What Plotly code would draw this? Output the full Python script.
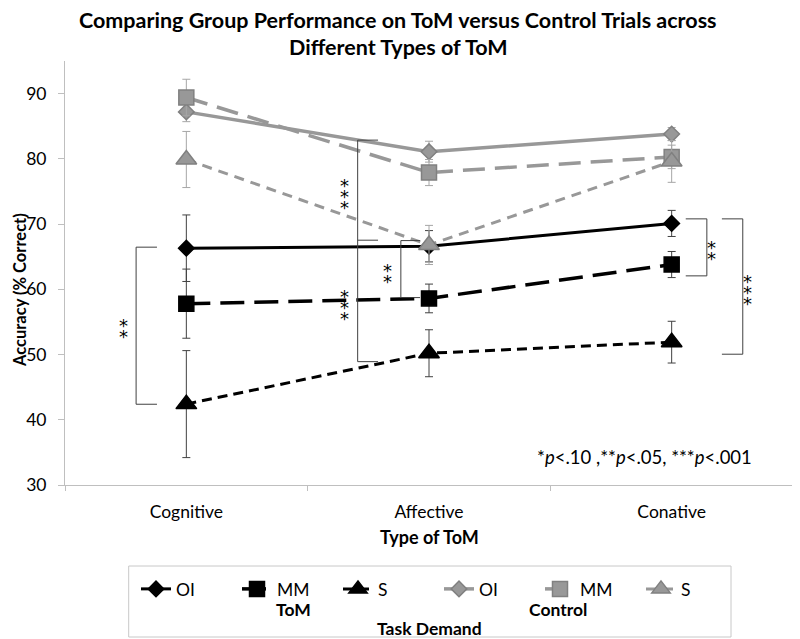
import plotly.graph_objects as go

# ---------------- data ----------------
categories = ["Cognitive", "Affective", "Conative"]

tom_oi = [66.3, 66.6, 70.1]
tom_oi_err = [5.1, 2.4, 2.0]
tom_mm = [57.8, 58.6, 63.8]
tom_mm_err = [5.3, 2.2, 2.0]
tom_s = [42.4, 50.2, 51.9]
tom_s_err = [8.2, 3.6, 3.2]

ctl_oi = [87.2, 81.1, 83.8]
ctl_oi_err = [1.5, 1.6, 1.0]
ctl_mm = [89.4, 77.9, 80.3]
ctl_mm_err = [2.8, 2.0, 1.8]
ctl_s = [79.9, 66.8, 79.6]
ctl_s_err = [4.3, 3.0, 3.2]

y_ticks = [30, 40, 50, 60, 70, 80, 90]

# significance brackets: vertical x, tick end x, y levels
bracket_xv = [-0.207, 0.706, 0.884, 2.145, 2.293]
bracket_xe = [-0.121, 0.790, 0.963, 2.058, 2.207]
bracket_ys = [[66.46, 42.38], [82.87, 67.53, 48.91], [67.47, 58.73],
              [70.80, 62.06], [70.80, 50.05]]

# significance stars: x, y, count
star_x = [-0.26, 0.650, 0.650, 0.827, 2.166, 2.314]
star_y = [54.5, 75.1, 58.07, 62.98, 66.43, 60.37]
star_n = [2, 3, 3, 2, 2, 3]

FONT = "Lato"
BLACK = "#000000"
GREY = "#989898"
GREY_EDGE = "#808080"

# page body has an 8px margin; plot area laid out in page pixels
PAGE_OFF = 8
PL, PR, PT, PB = 65, 793, 61, 485   # plot area in page pixels
W, H = 800 - PAGE_OFF, 639 - PAGE_OFF


def px(xp):
    return (xp - PL) / (PR - PL)


def py(yp):
    return (PB - yp) / (PB - PT)


fig = go.Figure()

series = [
    ("OI", tom_oi, tom_oi_err, BLACK, BLACK, "solid", "diamond", 12, 3, "#404040"),
    ("MM", tom_mm, tom_mm_err, BLACK, BLACK, "24px,10px", "square", 15, 3.5, "#404040"),
    ("S", tom_s, tom_s_err, BLACK, BLACK, "10px,6px", "triangle-up", 18, 3, "#404040"),
    ("OI", ctl_oi, ctl_oi_err, GREY, GREY_EDGE, "solid", "diamond", 12, 3.5, "#a6a6a6"),
    ("MM", ctl_mm, ctl_mm_err, GREY, GREY_EDGE, "22px,10px", "square", 15, 3.5, "#a6a6a6"),
    ("S", ctl_s, ctl_s_err, GREY, GREY_EDGE, "10px,7px", "triangle-up", 18, 3, "#a6a6a6"),
]

for name, vals, errs, col, edge, dash, sym, size, lw, ecol in series:
    fig.add_trace(go.Scatter(
        x=categories, y=vals, name=name, mode="lines+markers",
        line=dict(color=col, width=lw, dash=dash),
        marker=dict(symbol=sym, size=size, color=col,
                    line=dict(color=edge, width=1.5)),
        error_y=dict(type="data", array=errs, visible=True,
                     color=ecol, thickness=1, width=4),
    ))

# brackets
for xv, xe, ys in zip(bracket_xv, bracket_xe, bracket_ys):
    fig.add_shape(type="line", xref="x", yref="y", x0=xv, x1=xv,
                  y0=min(ys), y1=max(ys), line=dict(color="#404040", width=1))
    for yy in ys:
        fig.add_shape(type="line", xref="x", yref="y", x0=xv, x1=xe,
                      y0=yy, y1=yy, line=dict(color="#404040", width=1))

# stars
for sx, sy, n in zip(star_x, star_y, star_n):
    for i in range(n):
        off = ((n - 1) / 2 - i) * 11
        fig.add_annotation(x=sx, y=sy, xref="x", yref="y", text="*",
                           showarrow=False, yshift=off - 6,
                           font=dict(family="DejaVu Sans", size=18, color="#000"))

# title lines
fig.add_annotation(text="<b>Comparing Group Performance on ToM versus Control Trials across</b>",
                   xref="paper", yref="paper", x=px(398), y=py(20),
                   showarrow=False, xanchor="center", yanchor="middle",
                   font=dict(family=FONT, size=21.5, color="#000"))
fig.add_annotation(text="<b>Different Types of ToM</b>",
                   xref="paper", yref="paper", x=px(398), y=py(47),
                   showarrow=False, xanchor="center", yanchor="middle",
                   font=dict(family=FONT, size=21.5, color="#000"))

# axis titles
fig.add_annotation(text="<b>Accuracy (% Correct)</b>", textangle=-90,
                   xref="paper", yref="paper", x=px(20), y=py(290),
                   showarrow=False, xanchor="center", yanchor="middle",
                   font=dict(family=FONT, size=16.5, color="#000"))
fig.add_annotation(text="<b>Type of ToM</b>",
                   xref="paper", yref="paper", x=px(429), y=py(537),
                   showarrow=False, xanchor="center", yanchor="middle",
                   font=dict(family=FONT, size=18, color="#000"))

# footnote
fig.add_annotation(text="*<i>p</i>&lt;.10 ,**<i>p</i>&lt;.05, ***<i>p</i>&lt;.001",
                   xref="paper", yref="paper", x=px(754), y=py(457),
                   showarrow=False, xanchor="right", yanchor="middle",
                   font=dict(family=FONT, size=18.5, color="#000"))

# legend box and group labels
fig.add_shape(type="rect", xref="paper", yref="paper",
              x0=px(128.7), x1=px(731), y0=py(637), y1=py(566),
              line=dict(color="#c8c8c8", width=1))
for txt, xx, yy in [("ToM", 293, 609), ("Control", 558, 609), ("Task Demand", 429, 628)]:
    fig.add_annotation(text="<b>" + txt + "</b>", xref="paper", yref="paper",
                       x=px(xx), y=py(yy), showarrow=False,
                       xanchor="center", yanchor="middle",
                       font=dict(family=FONT, size=17.5, color="#000"))

fig.update_layout(
    width=W, height=H,
    margin=dict(l=PL - PAGE_OFF, r=W - (PR - PAGE_OFF), t=PT - PAGE_OFF,
                b=H - (PB - PAGE_OFF), autoexpand=False),
    paper_bgcolor="white", plot_bgcolor="white",
    font=dict(family=FONT, size=17, color="#000"),
    showlegend=True,
    legend=dict(orientation="h", x=px(136), y=py(589),
                xanchor="left", yanchor="middle", entrywidth=56,
                itemwidth=30, font=dict(family=FONT, size=17.5, color="#000"),
                bgcolor="rgba(0,0,0,0)"),
    xaxis=dict(type="category", range=[-0.5, 2.5], tickson="boundaries",
               ticks="outside", ticklen=5, tickcolor="#bfbfbf",
               showline=True, linecolor="#bfbfbf", showgrid=False, zeroline=False,
               ticklabelstandoff=11,
               tickfont=dict(family=FONT, size=17.5, color="#000")),
    yaxis=dict(range=[30, 95], tickvals=y_ticks, ticks="outside", ticklen=6,
               tickcolor="#bfbfbf", showline=True, linecolor="#bfbfbf",
               showgrid=False, zeroline=False, ticklabelstandoff=8,
               tickfont=dict(family=FONT, size=17.5, color="#000")),
)

fig.write_html("out.html")
